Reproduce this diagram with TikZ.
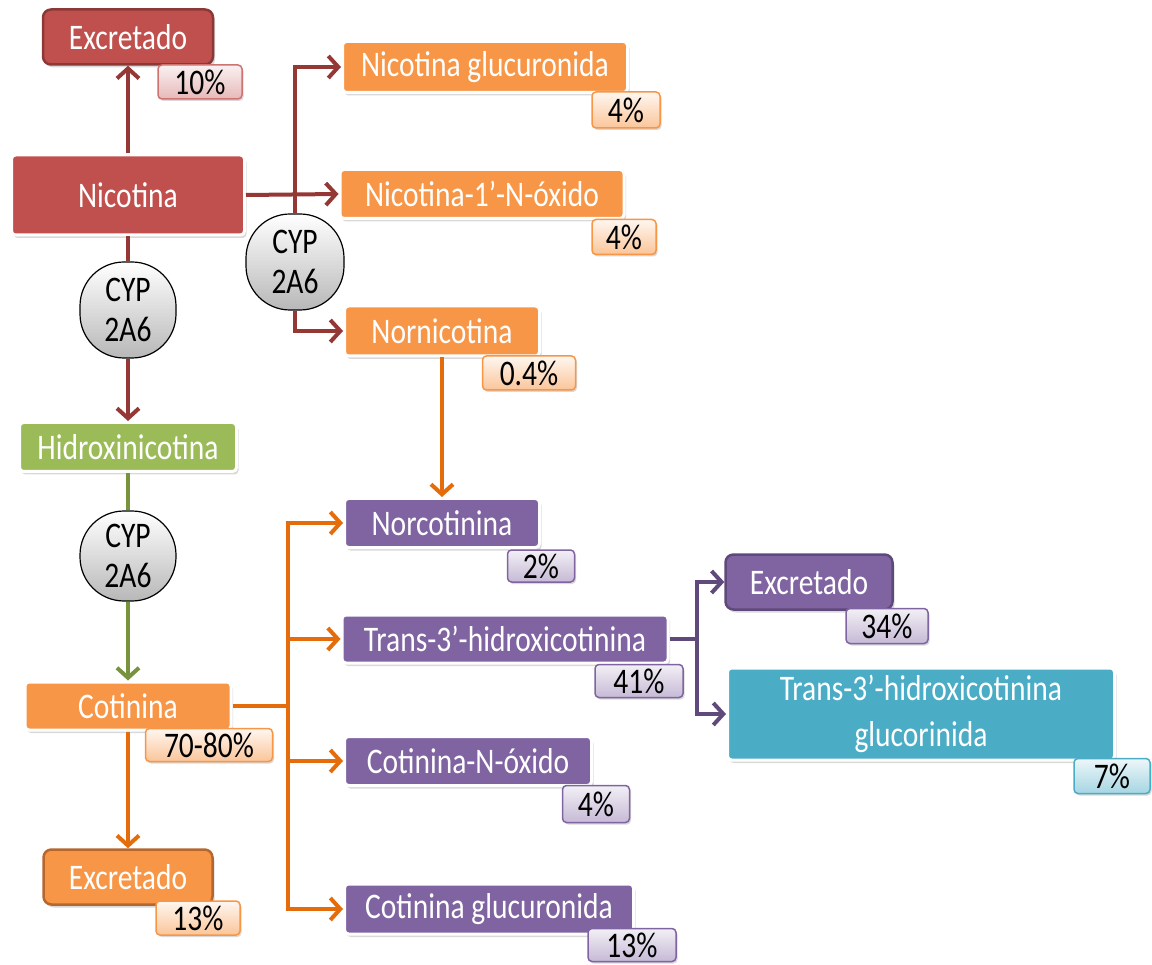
\documentclass[tikz,border=0pt]{standalone}
\usepackage{fontspec}
\usepackage{graphicx}
\setmainfont{Carlito}
\usetikzlibrary{arrows.meta,shadows}
\newcommand\sq[1]{\scalebox{0.82}[1]{#1}}
\definecolor{cRed}{HTML}{C0504D}
\definecolor{cRedD}{HTML}{953735}
\definecolor{cRedB}{HTML}{8C3836}
\definecolor{cOr}{HTML}{F79646}
\definecolor{cOrD}{HTML}{E46C0A}
\definecolor{cOrB}{HTML}{B6672E}
\definecolor{cGr}{HTML}{9BBB59}
\definecolor{cGrD}{HTML}{77933C}
\definecolor{cPu}{HTML}{8064A2}
\definecolor{cPuD}{HTML}{604A7B}
\definecolor{cPuB}{HTML}{5F497A}
\definecolor{cTe}{HTML}{4BACC6}
\tikzset{
  sz/.style 2 args={minimum width=#1pt, minimum height=#2pt},
  box/.style={rounded corners=4pt, draw=white, line width=3pt, text=white,
    font=\fontsize{36}{46}\selectfont, inner sep=0pt, align=center,
    drop shadow={shadow xshift=2pt,shadow yshift=-3pt,opacity=0.3}},
  exc/.style={rounded corners=8pt, line width=2.5pt, text=white,
    font=\fontsize{36}{40}\selectfont, inner sep=0pt,
    drop shadow={shadow xshift=2pt,shadow yshift=-3pt,opacity=0.3}},
  badge/.style={rounded corners=4pt, line width=1.5pt, text=black,
    font=\fontsize{36}{38}\selectfont, inner sep=0pt,
    drop shadow={shadow xshift=1.5pt,shadow yshift=-2pt,opacity=0.3}},
  bOr/.style={badge, draw=cOr, top color=white!60!cOr!20, bottom color=cOr!55},
  bRed/.style={badge, draw=cRed!80, top color=cRed!8, bottom color=cRed!40},
  bPu/.style={badge, draw=cPu, top color=cPu!10, bottom color=cPu!45},
  bTe/.style={badge, draw=cTe, top color=cTe!10, bottom color=cTe!50},
  cyp/.style={rounded corners=44pt, draw=black, line width=1.2pt,
    top color=white, bottom color=black!28, align=center, text=black,
    font=\fontsize{36}{40}\selectfont, inner sep=0pt},
  con/.style={line width=4pt, -{Straight Barb[length=10pt,width=22pt]}},
  lin/.style={line width=4pt},
}
\begin{document}
\begin{tikzpicture}[x=1pt,y=-1pt]
\useasboundingbox (0,0) rectangle (1152,965);
% left column
\node[exc, draw=cRedB, fill=cRed, sz={170}{55}] (excR) at (128,37) {\sq{Excretado}};
\node[bRed, sz={84}{34}] (b10) at (200,82) {\sq{10\%}};
\node[box, fill=cRed, sz={233}{80}] (nic) at (128,195) {\sq{Nicotina}};
\node[cyp, sz={96}{96}] (cyp0) at (128,310) {\sq{CYP}\\\sq{2A6}};
\node[box, fill=cGr, sz={217}{49}] (hid) at (128,447) {\sq{Hidroxinicotina}};
\node[cyp, sz={96}{90}] (cyp2) at (128,556) {\sq{CYP}\\\sq{2A6}};
\node[box, fill=cOr, sz={206}{48}] (cot) at (128,706) {\sq{Cotinina}};
\node[bOr, sz={127}{33}] (b7080) at (209,745) {\sq{70-80\%}};
\node[exc, draw=cOrB, fill=cOr, sz={169}{55}] (excO) at (128,877) {\sq{Excretado}};
\node[bOr, sz={84}{34}] (b13a) at (198,918) {\sq{13\%}};
% top right group
\node[cyp, sz={98}{96}] (cyp1) at (295,262) {\sq{CYP}\\\sq{2A6}};
\node[box, fill=cOr, sz={285}{51}] (ng) at (485,67) {\sq{Nicotina glucuronida}};
\node[bOr, sz={68}{36}] (b4a) at (626,110) {\sq{4\%}};
\node[box, fill=cOr, sz={284}{49}] (nno) at (482,194) {\sq{Nicotina-1’-N-óxido}};
\node[bOr, sz={64}{35}] (b4b) at (624,237) {\sq{4\%}};
\node[box, fill=cOr, sz={195}{50}] (norn) at (442,331) {\sq{Nornicotina}};
\node[bOr, sz={93}{34}] (b04) at (529,373) {\sq{0.4\%}};
% purple group
\node[box, fill=cPu, sz={195}{49}] (norc) at (442,523) {\sq{Norcotinina}};
\node[bPu, sz={67}{32}] (b2) at (541,566) {\sq{2\%}};
\node[box, fill=cPu, sz={326}{48}] (trans) at (505,639) {\sq{Trans-3’-hidroxicotinina}};
\node[bPu, sz={88}{33}] (b41) at (639,681) {\sq{41\%}};
\node[box, fill=cPu, sz={247}{49}] (cno) at (468,761) {\sq{Cotinina-N-óxido}};
\node[bPu, sz={67}{37}] (b4c) at (596,804) {\sq{4\%}};
\node[box, fill=cPu, sz={289}{50}] (cg) at (489,909) {\sq{Cotinina glucuronida}};
\node[bPu, sz={88}{33}] (b13b) at (632,945) {\sq{13\%}};
\node[exc, draw=cPuB, fill=cPu, sz={167}{55}] (excP) at (809,582) {\sq{Excretado}};
\node[bPu, sz={82}{35}] (b34) at (887,626) {\sq{34\%}};
\node[box, fill=cTe, sz={387}{92}] (tg) at (921,714) {\sq{Trans-3’-hidroxicotinina}\\\sq{glucorinida}};
\node[bTe, sz={76}{35}] (b7) at (1112,776) {\sq{7\%}};
% junctions
\coordinate (j1) at (288,706);
\coordinate (j2) at (697,639);
% connectors
\draw[con, cRedD] (nic.north) -- (excR.south);
\draw[con, cRedD] (nic.east) -- (nno.west);
\draw[con, cRedD] (cyp1.north) |- (ng.west);
\draw[con, cRedD] (cyp1.south) |- (norn.west);
\draw[lin, cRedD] (nic.south) -- (cyp0.north);
\draw[con, cRedD] (cyp0.south) -- (hid.north);
\draw[lin, cGrD] (hid.south) -- (cyp2.north);
\draw[con, cGrD] (cyp2.south) -- (cot.north);
\draw[con, cOrD] (cot.south) -- (excO.north);
\draw[lin, cOrD] (cot.east) -- (cot.east -| j1);
\draw[con, cOrD] (j1) |- (norc.west);
\draw[con, cOrD] (j1) |- (trans.west);
\draw[con, cOrD] (j1) |- (cno.west);
\draw[con, cOrD] (j1) |- (cg.west);
\draw[con, cOrD] (norn.south) -- (norc.north);
\draw[lin, cPuD] (trans.east) -- (trans.east -| j2);
\draw[con, cPuD] (j2) |- (excP.west);
\draw[con, cPuD] (j2) |- (tg.west);
\end{tikzpicture}
\end{document}
